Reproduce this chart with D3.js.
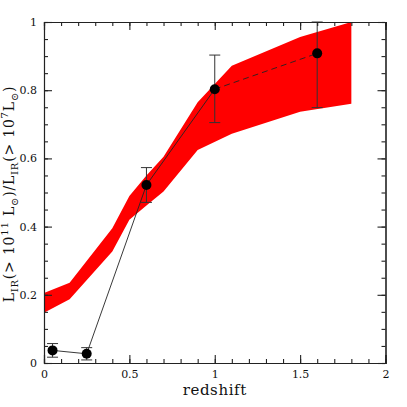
<!DOCTYPE html>
<html>
<head>
<meta charset="utf-8">
<script src="https://cdn.jsdelivr.net/npm/d3@7"></script>
<style>
  body { margin: 0; background: #fff; }
  svg { display: block; }
  .axis text { font-family: "DejaVu Serif", serif; font-size: 11px; fill: #111; }
  .axis path, .axis line { stroke: #222; stroke-width: 1.1; }
</style>
</head>
<body>
<div id="chart"></div>
<script>
// red model band (redshift, upper / lower fraction)
var bandZ  = [0, 0.15, 0.4, 0.5, 0.6, 0.7, 0.9, 1.1, 1.5, 1.8];
var bandHi = [0.205, 0.235, 0.395, 0.49, 0.55, 0.605, 0.765, 0.872, 0.956, 1.0];
var bandLo = [0.147, 0.187, 0.327, 0.42, 0.462, 0.503, 0.625, 0.672, 0.737, 0.76];

// measured points with error bars
var ptZ   = [0.05, 0.25, 0.6, 1.0, 1.6];
var ptV   = [0.037, 0.027, 0.522, 0.803, 0.908];
var errLo = [0.017, 0.009, 0.471, 0.705, 0.749];
var errHi = [0.057, 0.045, 0.573, 0.903, 1.0];

var xMajor = [0, 0.5, 1, 1.5, 2];
var yMajor = [0, 0.2, 0.4, 0.6, 0.8, 1];

var W = 407, H = 407;
var margin = {top: 22, right: 21.5, bottom: 44, left: 44},
    width = W - margin.left - margin.right,
    height = H - margin.top - margin.bottom;

var svg = d3.select("#chart").append("svg").attr("width", W).attr("height", H);

var x = d3.scaleLinear().domain([0, 2]).range([0, width]),
    y = d3.scaleLinear().domain([0, 1]).range([height, 0]);

var g = svg.append("g").attr("transform", "translate(" + margin.left + "," + margin.top + ")");

var band = bandZ.map(function(z, i) { return {z: z, hi: bandHi[i], lo: bandLo[i]}; });
var area = d3.area()
    .x(function(d) { return x(d.z); })
    .y0(function(d) { return y(d.lo); })
    .y1(function(d) { return y(d.hi); });

g.append("path").datum(band).attr("d", area).attr("fill", "#ff0000");

var pts = ptZ.map(function(z, i) { return {z: z, v: ptV[i], lo: errLo[i], hi: errHi[i]}; });
var line = d3.line().x(function(d) { return x(d.z); }).y(function(d) { return y(d.v); });

g.append("path").datum(pts.slice(0, 4)).attr("d", line)
    .attr("fill", "none").attr("stroke", "#222").attr("stroke-width", 0.9);
g.append("path").datum(pts.slice(3)).attr("d", line)
    .attr("fill", "none").attr("stroke", "#222").attr("stroke-width", 0.9)
    .attr("stroke-dasharray", "6,4");

var eb = g.selectAll(".err").data(pts).enter().append("g").attr("class", "err")
    .attr("stroke", "#333").attr("stroke-width", 1);
eb.append("line")
    .attr("x1", function(d) { return x(d.z); }).attr("x2", function(d) { return x(d.z); })
    .attr("y1", function(d) { return y(d.lo); }).attr("y2", function(d) { return y(d.hi); });
eb.append("line")
    .attr("x1", function(d) { return x(d.z) - 5.5; }).attr("x2", function(d) { return x(d.z) + 5.5; })
    .attr("y1", function(d) { return y(d.lo); }).attr("y2", function(d) { return y(d.lo); });
eb.append("line")
    .attr("x1", function(d) { return x(d.z) - 5.5; }).attr("x2", function(d) { return x(d.z) + 5.5; })
    .attr("y1", function(d) { return y(d.hi); }).attr("y2", function(d) { return y(d.hi); });

g.selectAll(".pt").data(pts).enter().append("circle").attr("class", "pt")
    .attr("cx", function(d) { return x(d.z); })
    .attr("cy", function(d) { return y(d.v); })
    .attr("r", 5).attr("fill", "#000");

// axes: major ticks with labels, minor ticks, all pointing inward
var fmt = function(d) { return d3.format("")(d); };
var xMinor = d3.range(0, 2.0001, 0.1).map(function(d) { return +d.toFixed(2); });
var yMinor = d3.range(0, 1.0001, 0.05).map(function(d) { return +d.toFixed(2); });

g.append("g").attr("class", "axis").attr("transform", "translate(0," + height + ")")
    .call(d3.axisBottom(x).tickValues(xMajor).tickSize(-8).tickPadding(7).tickFormat(fmt));
g.append("g").attr("class", "axis").attr("transform", "translate(0," + height + ")")
    .call(d3.axisBottom(x).tickValues(xMinor).tickSize(-4).tickFormat(""));
g.append("g").attr("class", "axis")
    .call(d3.axisTop(x).tickValues(xMajor).tickSize(-8).tickFormat(""));
g.append("g").attr("class", "axis")
    .call(d3.axisTop(x).tickValues(xMinor).tickSize(-4).tickFormat(""));

g.append("g").attr("class", "axis")
    .call(d3.axisLeft(y).tickValues(yMajor).tickSize(-8).tickPadding(7).tickFormat(fmt));
g.append("g").attr("class", "axis")
    .call(d3.axisLeft(y).tickValues(yMinor).tickSize(-4).tickFormat(""));
g.append("g").attr("class", "axis").attr("transform", "translate(" + width + ",0)")
    .call(d3.axisRight(y).tickValues(yMajor).tickSize(-8).tickFormat(""));
g.append("g").attr("class", "axis").attr("transform", "translate(" + width + ",0)")
    .call(d3.axisRight(y).tickValues(yMinor).tickSize(-4).tickFormat(""));

svg.selectAll(".axis .domain").attr("stroke", "#222");

// axis titles
svg.append("text")
    .attr("x", margin.left + width / 2).attr("y", 395)
    .attr("text-anchor", "middle")
    .style("font-family", "DejaVu Serif, serif").style("font-size", "15px")
    .style("letter-spacing", "0.6px").attr("fill", "#111")
    .text("redshift");

var yl = svg.append("text")
    .attr("transform", "translate(14,194) rotate(-90)")
    .attr("text-anchor", "middle")
    .style("font-family", "DejaVu Serif, serif").style("font-size", "14px")
    .style("letter-spacing", "0.8px").attr("fill", "#111");

var parts = [
  ["L", 0], ["IR", 1], ["(> 10", 0], ["11", 2], [" L", 0], ["\u2299", 1],
  [")/L", 0], ["IR", 1], ["(> 10", 0], ["7", 2], ["L", 0], ["\u2299", 1], [")", 0]
];
var cur = 0;
parts.forEach(function(p) {
  var shift = p[1] === 1 ? 4 : (p[1] === 2 ? -6 : 0);
  yl.append("tspan")
      .attr("dy", shift - cur)
      .style("font-size", p[1] ? "10px" : "14px")
      .text(p[0]);
  cur = shift;
});
</script>
</body>
</html>
